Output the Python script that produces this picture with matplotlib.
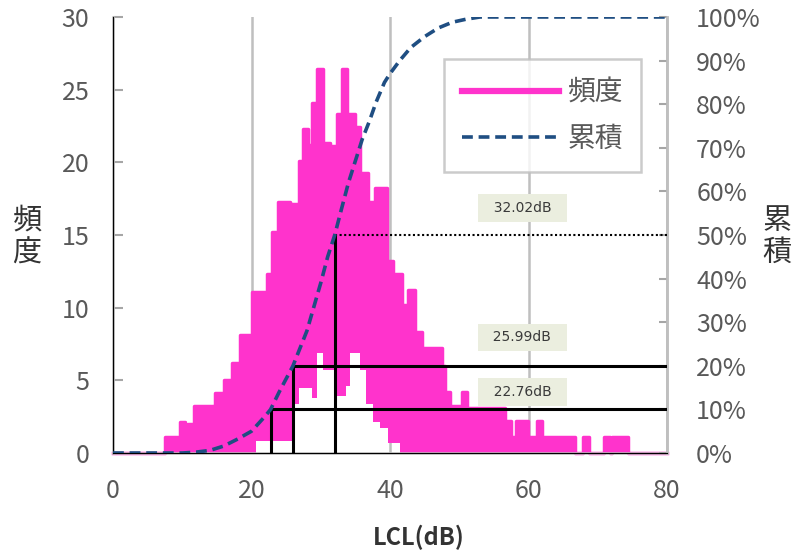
import numpy as np
import matplotlib
matplotlib.use("Agg")
import matplotlib.pyplot as plt
from matplotlib.lines import Line2D
from matplotlib.ticker import MultipleLocator, FuncFormatter

plt.rcParams["font.family"] = ["Noto Sans CJK JP", "DejaVu Sans"]

# frequency (頻度): upper envelope of the noisy line, step segments starting at hi_db
hi_db = [0.0, 7.5, 9.7, 10.4, 10.9, 11.7, 14.4, 14.8, 16.0, 17.2,
         18.4, 20.0, 22.3, 22.9, 23.8, 25.5, 26.9, 27.4, 28.2, 28.7,
         29.5, 30.3, 31.3, 32.3, 33.0, 33.8, 34.9, 35.6, 36.8, 37.8,
         39.5, 40.4, 41.7, 42.6, 43.6, 44.6, 47.5, 48.0, 48.6, 50.4,
         51.1, 56.6, 57.5, 58.2, 59.9, 61.2, 62.0, 66.7, 67.8, 68.7,
         70.9, 71.7, 72.1, 74.3]
freq_hi = [0, 1.1, 2.1, 1.1, 2.0, 3.2, 2.0, 4.1, 5.0, 6.2,
           8.1, 11.1, 12.3, 15.2, 17.3, 17.1, 20.1, 22.3, 21.2, 24.1,
           26.4, 21.3, 21.1, 23.3, 26.4, 23.3, 22.4, 19.3, 17.3, 18.2,
           13.2, 12.3, 10.2, 11.2, 8.3, 7.2, 6.0, 4.2, 3.2, 4.2,
           3.1, 2.2, 1.1, 2.2, 1.1, 2.2, 1.1, 0, 1.1, 0,
           1.1, 0, 1.1, 0]
# lower envelope (white gaps under the line)
lo_db = [0.0, 20.7, 25.8, 26.9, 28.7, 29.5, 30.3, 32.3, 33.6, 34.2,
         35.6, 36.6, 37.6, 38.5, 39.7, 41.5]
freq_lo = [0, 0.8, 3.4, 4.5, 3.8, 6.9, 5.7, 3.9, 4.6, 6.9,
           5.7, 3.4, 2.1, 1.7, 0.7, 0]

# cumulative (累積), %
cum_db = [0, 10, 12, 14, 16, 18, 20, 22, 22.76, 24, 25.99, 28, 30, 31, 32.02,
          33, 34, 35, 36, 37, 38, 39.2, 40, 41.4, 43, 45, 47, 49, 51, 53, 80]
cum_pct = [0, 0, 0.2, 0.6, 1.6, 3.2, 5.0, 8.5, 10, 14, 20, 28, 39, 45, 50,
           56, 62, 67, 72, 76, 80.5, 85, 87, 90, 93, 95.5, 97.5, 98.8, 99.5, 100, 100]

ref_db = [22.76, 25.99, 32.02]
ref_pct = [10, 20, 50]
ref_labels = ["22.76dB", "25.99dB", "32.02dB"]

X_MAX = 80
PINK = "#FF33CC"
BLUE = "#1F4E82"
GRAY = "#BFBFBF"
TXT = "#595959"


def step_lookup(starts, values, x):
    idx = np.searchsorted(starts, x, side="right") - 1
    return np.asarray(values, dtype=float)[idx]


fig = plt.figure(figsize=(7.94, 5.52), dpi=100)
ax = fig.add_axes([113 / 794, 99 / 552, 554 / 794, 436 / 552])

edges = np.union1d(hi_db, lo_db)
edges = np.append(edges, X_MAX)
hi = step_lookup(hi_db, freq_hi, edges)
lo = step_lookup(lo_db, freq_lo, edges)
ax.fill_between(edges, lo, hi, step="post", color=PINK, lw=0, zorder=2)
ax.step(list(hi_db) + [X_MAX], list(freq_hi) + [freq_hi[-1]], where="post",
        color=PINK, lw=2.5, zorder=2, clip_on=False)

ax.set_xlim(0, X_MAX)
ax.set_ylim(0, 30)
ax.xaxis.set_major_locator(MultipleLocator(20))
ax.yaxis.set_major_locator(MultipleLocator(5))
ax.grid(axis="x", color=GRAY, lw=1.8)
ax.set_axisbelow(True)
for side in ["left", "bottom", "right"]:
    ax.spines[side].set_color(GRAY)
    ax.spines[side].set_linewidth(1.8)
ax.spines["top"].set_visible(False)
ax.tick_params(axis="y", direction="in", length=7, width=1.5, color="#A6A6A6",
               labelsize=18, labelcolor=TXT, pad=17)
ax.tick_params(axis="x", length=0, labelsize=18, labelcolor=TXT, pad=18)

ax2 = ax.twinx()
ax2.set_ylim(0, 100)
ax2.yaxis.set_major_locator(MultipleLocator(10))
ax2.yaxis.set_major_formatter(FuncFormatter(lambda v, p: f"{v:.0f}%"))
ax2.tick_params(axis="y", direction="in", length=6, width=1.5, color="#A6A6A6",
                labelsize=18, labelcolor=TXT, pad=21)
ax2.spines["top"].set_visible(False)
ax2.spines["right"].set_color(GRAY)
ax2.spines["right"].set_linewidth(1.8)

# reference lines
for db, pct in zip(ref_db, ref_pct):
    ax2.vlines(db, 0, pct, color="black", lw=2.2, zorder=3)
    if pct == 50:
        ax2.hlines(pct, db, X_MAX, color="black", lw=1.5, linestyles=(0, (1, 1.2)), zorder=3)
    else:
        ax2.hlines(pct, db, X_MAX, color="black", lw=2.2, zorder=3)

label_pct = [14, 26.5, 56.2]
for pct, lab in zip(label_pct, ref_labels):
    ax2.text(59.1, pct, f"  {lab}  ", ha="center", va="center", fontsize=10,
             color="#3A3A3A", family="DejaVu Sans",
             bbox=dict(boxstyle="square,pad=0.5", fc="#EBEEDF", ec="none"), zorder=4)

ax2.plot(cum_db, cum_pct, color=BLUE, lw=2.6, dashes=(3, 1.6), zorder=5)

handles = [Line2D([], [], color=PINK, lw=4.5),
           Line2D([], [], color=BLUE, lw=2.6, dashes=(3, 1.6))]
leg = ax2.legend(handles, ["頻度", "累積"], loc="upper left",
                 bbox_to_anchor=(0.597, 0.903), fontsize=20, frameon=True,
                 fancybox=False, handlelength=3.5, handletextpad=0.3,
                 labelspacing=0.6, borderpad=0.65, borderaxespad=0)
leg.get_frame().set_edgecolor(GRAY)
leg.get_frame().set_linewidth(1.8)
for t in leg.get_texts():
    t.set_color(TXT)

fig.text(419 / 794, 1 - 537 / 552, "LCL(dB)", ha="center", va="center",
         fontsize=17, fontweight="bold", color="#333333")
fig.text(27 / 794, 1 - 237 / 552, "頻\n度", ha="center", va="center",
         fontsize=21, color="#333333", linespacing=1.1)
fig.text(777 / 794, 1 - 237 / 552, "累\n積", ha="center", va="center",
         fontsize=21, color="#333333", linespacing=1.1)

fig.savefig("out.png", dpi=100)
